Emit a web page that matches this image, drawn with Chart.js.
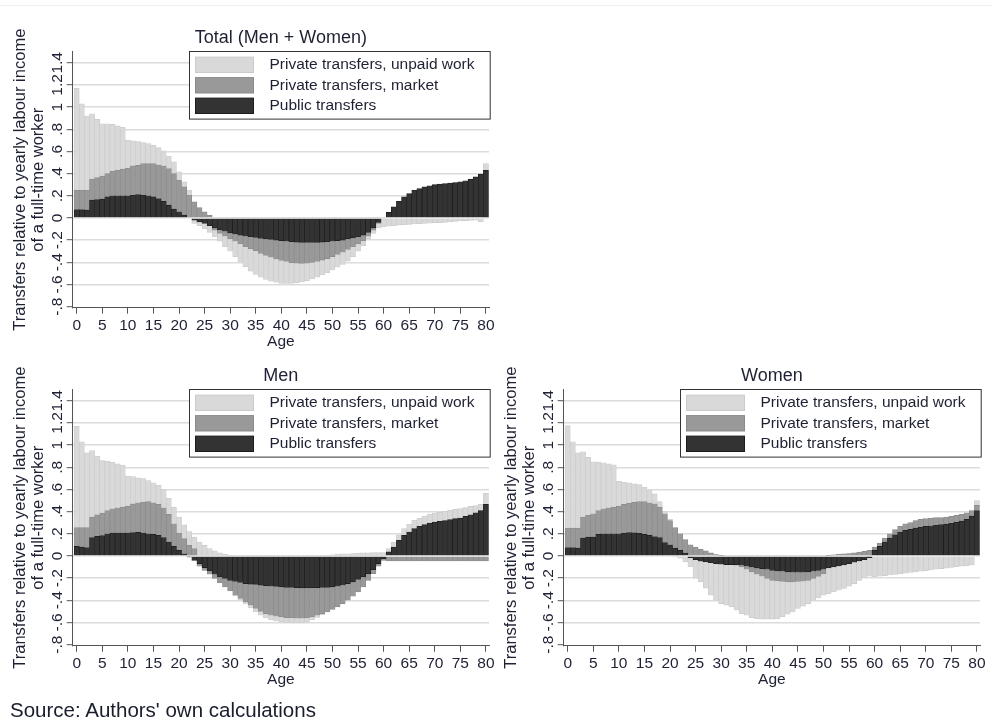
<!DOCTYPE html>
<html>
<head>
<meta charset="utf-8">
<script src="https://cdn.jsdelivr.net/npm/chart.js@4.4.1/dist/chart.umd.min.js"></script>
<style>
  body { margin: 0; background: #fff; width: 992px; height: 724px; position: relative; overflow: hidden;
         font-family: "Liberation Sans", Arial, sans-serif; }
  canvas { position: absolute; }
  #topline { position: absolute; left: 0; top: 5px; width: 992px; height: 1px; background: #f0f0f0; }
  #source { position: absolute; left: 10px; top: 699px; font-size: 20.5px; line-height: 22px; color: #1a1d2b; white-space: nowrap; }
</style>
</head>
<body>
<div id="topline"></div>
<canvas id="total" width="503" height="362" style="left:0;top:0"></canvas>
<canvas id="men" width="503" height="362" style="left:0;top:338px"></canvas>
<canvas id="women" width="503" height="362" style="left:491px;top:338px"></canvas>
<div id="source">Source: Authors' own calculations</div>
<script>
/* ====== data ====== */
const ages = [
  0, 1, 2, 3, 4, 5, 6, 7, 8, 9, 10, 11, 12, 13, 14, 15, 16, 17, 18, 19,
  20, 21, 22, 23, 24, 25, 26, 27, 28, 29, 30, 31, 32, 33, 34, 35, 36, 37, 38, 39,
  40, 41, 42, 43, 44, 45, 46, 47, 48, 49, 50, 51, 52, 53, 54, 55, 56, 57, 58, 59,
  60, 61, 62, 63, 64, 65, 66, 67, 68, 69, 70, 71, 72, 73, 74, 75, 76, 77, 78, 79, 80
];
const xTicks = [0, 5, 10, 15, 20, 25, 30, 35, 40, 45, 50, 55, 60, 65, 70, 75, 80];
const yTicks = [-0.8, -0.6, -0.4, -0.2, 0, 0.2, 0.4, 0.6, 0.8, 1, 1.2, 1.4];
const yTickLabels = ["-.8", "-.6", "-.4", "-.2", "0", ".2", ".4", ".6", ".8", "1", "1.2", "1.4"];
const yTitle = ["Transfers relative to yearly labour income", "of a full-time worker"];
const xTitle = "Age";
const seriesLabels = ["Public transfers", "Private transfers, market", "Private transfers, unpaid work"];

// Total (Men + Women)
const totalPublic = [
  0.075, 0.075, 0.07, 0.16, 0.165, 0.17, 0.19, 0.2, 0.2, 0.2,
  0.2, 0.205, 0.21, 0.205, 0.2, 0.19, 0.175, 0.15, 0.115, 0.08,
  0.055, 0.025, 0, -0.02, -0.035, -0.05, -0.07, -0.09, -0.105, -0.12,
  -0.135, -0.145, -0.155, -0.165, -0.17, -0.175, -0.185, -0.19, -0.195, -0.2,
  -0.205, -0.21, -0.215, -0.218, -0.22, -0.222, -0.222, -0.22, -0.218, -0.215,
  -0.21, -0.205, -0.2, -0.19, -0.18, -0.17, -0.155, -0.13, -0.09, -0.04,
  0, 0.05, 0.1, 0.15, 0.19, 0.22, 0.25, 0.265, 0.28, 0.29,
  0.3, 0.305, 0.31, 0.315, 0.32, 0.325, 0.335, 0.35, 0.37, 0.395,
  0.43
];
const totalMarket = [
  0.175, 0.175, 0.18, 0.19, 0.2, 0.207, 0.21, 0.22, 0.23, 0.24,
  0.25, 0.265, 0.265, 0.285, 0.29, 0.3, 0.305, 0.32, 0.33, 0.32,
  0.285, 0.255, 0.205, 0.145, 0.093, 0.054, 0.024, -0.02, -0.035, -0.045,
  -0.055, -0.065, -0.08, -0.095, -0.11, -0.12, -0.135, -0.148, -0.16, -0.17,
  -0.178, -0.183, -0.188, -0.19, -0.19, -0.186, -0.18, -0.172, -0.162, -0.152,
  -0.14, -0.125, -0.11, -0.095, -0.08, -0.065, -0.05, -0.035, -0.02, -0.01,
  0, 0, 0, 0, 0, 0, 0, 0, 0, 0,
  0, 0, 0, 0, 0, 0, 0, 0, 0, 0,
  0
];
const totalUnpaid = [
  0.92, 0.78, 0.67, 0.59, 0.525, 0.473, 0.45, 0.425, 0.4, 0.38,
  0.25, 0.225, 0.215, 0.19, 0.18, 0.165, 0.155, 0.135, 0.112, 0.106,
  0.076, 0.045, 0.045, -0.03, -0.035, -0.05, -0.06, -0.06, -0.07, -0.095,
  -0.11, -0.14, -0.165, -0.18, -0.2, -0.215, -0.215, -0.217, -0.215, -0.21,
  -0.207, -0.199, -0.187, -0.177, -0.168, -0.157, -0.148, -0.143, -0.135, -0.128,
  -0.12, -0.115, -0.11, -0.105, -0.09, -0.065, -0.045, -0.025, -0.03, -0.04,
  -0.08, -0.075, -0.07, -0.065, -0.06, -0.058, -0.055, -0.052, -0.05, -0.048,
  -0.045, -0.042, -0.04, -0.036, -0.032, -0.028, -0.025, -0.022, -0.02, -0.035,
  0.06
];

// Men
const menPublic = [
  0.087, 0.08, 0.075, 0.165, 0.177, 0.183, 0.2, 0.207, 0.207, 0.207,
  0.207, 0.21, 0.213, 0.207, 0.2, 0.195, 0.186, 0.165, 0.126, 0.087,
  0.05, 0.02, -0.01, -0.04, -0.07, -0.105, -0.135, -0.165, -0.19, -0.204,
  -0.22, -0.23, -0.24, -0.25, -0.254, -0.258, -0.263, -0.268, -0.273, -0.276,
  -0.28, -0.283, -0.285, -0.287, -0.288, -0.288, -0.287, -0.286, -0.285, -0.283,
  -0.28, -0.273, -0.264, -0.25, -0.234, -0.213, -0.19, -0.16, -0.123, -0.07,
  -0.024, 0.036, 0.08, 0.14, 0.186, 0.216, 0.246, 0.267, 0.282, 0.297,
  0.306, 0.312, 0.32, 0.327, 0.336, 0.342, 0.357, 0.372, 0.39, 0.41,
  0.465
];
const menMarket = [
  0.168, 0.175, 0.18, 0.185, 0.193, 0.204, 0.21, 0.219, 0.228, 0.233,
  0.243, 0.26, 0.267, 0.279, 0.29, 0.285, 0.279, 0.27, 0.249, 0.203,
  0.157, 0.136, 0.096, 0.066, -0.023, -0.025, -0.03, -0.039, -0.053, -0.076,
  -0.095, -0.124, -0.144, -0.164, -0.19, -0.216, -0.237, -0.252, -0.262, -0.268,
  -0.27, -0.273, -0.275, -0.275, -0.274, -0.272, -0.263, -0.249, -0.235, -0.222,
  -0.203, -0.187, -0.166, -0.15, -0.129, -0.111, -0.09, -0.06, -0.037, -0.023,
  -0.016, -0.045, -0.045, -0.045, -0.045, -0.045, -0.045, -0.045, -0.045, -0.045,
  -0.045, -0.045, -0.045, -0.045, -0.045, -0.045, -0.045, -0.045, -0.045, -0.045,
  -0.045
];
const menUnpaid = [
  0.915, 0.775, 0.675, 0.6, 0.53, 0.473, 0.445, 0.421, 0.395, 0.38,
  0.27, 0.245, 0.225, 0.211, 0.19, 0.18, 0.175, 0.165, 0.145, 0.15,
  0.143, 0.124, 0.124, 0.104, 0.126, 0.096, 0.066, 0.045, 0.027, 0.015,
  0.006, -0.005, -0.01, -0.02, -0.025, -0.03, -0.035, -0.038, -0.04, -0.042,
  -0.045, -0.045, -0.045, -0.043, -0.04, -0.035, -0.028, -0.02, -0.012, 0.005,
  0.01, 0.015, 0.018, 0.02, 0.022, 0.025, 0.027, 0.028, 0.03, 0.03,
  0.03, 0.03, 0.045, 0.05, 0.06, 0.07, 0.075, 0.075, 0.078, 0.08,
  0.08, 0.082, 0.083, 0.084, 0.085, 0.085, 0.08, 0.075, 0.065, 0.055,
  0.1
];

// Women
const womenPublic = [
  0.075, 0.075, 0.07, 0.162, 0.17, 0.17, 0.195, 0.2, 0.2, 0.2,
  0.2, 0.205, 0.21, 0.208, 0.205, 0.195, 0.186, 0.175, 0.165, 0.12,
  0.1, 0.07, 0.05, 0.025, -0.015, -0.033, -0.048, -0.054, -0.06, -0.069,
  -0.075, -0.078, -0.078, -0.078, -0.084, -0.093, -0.1, -0.108, -0.114, -0.12,
  -0.13, -0.135, -0.138, -0.144, -0.147, -0.147, -0.147, -0.144, -0.138, -0.13,
  -0.12, -0.108, -0.1, -0.09, -0.081, -0.069, -0.057, -0.045, -0.033, -0.015,
  0.05, 0.087, 0.126, 0.162, 0.19, 0.216, 0.23, 0.24, 0.252, 0.26,
  0.267, 0.272, 0.277, 0.282, 0.288, 0.295, 0.303, 0.315, 0.33, 0.36,
  0.41
];
const womenMarket = [
  0.177, 0.177, 0.182, 0.188, 0.196, 0.21, 0.215, 0.226, 0.235, 0.24,
  0.25, 0.26, 0.267, 0.275, 0.285, 0.295, 0.294, 0.295, 0.275, 0.26,
  0.22, 0.185, 0.15, 0.122, 0.1, 0.08, 0.06, 0.045, 0.027, 0.012,
  0.004, 0, 0, -0.005, -0.016, -0.027, -0.044, -0.057, -0.069, -0.084,
  -0.09, -0.09, -0.093, -0.09, -0.087, -0.084, -0.081, -0.076, -0.066, -0.055,
  -0.04, 0.005, 0.01, 0.015, 0.018, 0.022, 0.028, 0.035, 0.042, 0.05,
  0.03, 0.03, 0.036, 0.038, 0.047, 0.05, 0.06, 0.06, 0.068, 0.07,
  0.07, 0.07, 0.068, 0.064, 0.062, 0.062, 0.063, 0.06, 0.06, 0.05,
  0.046
];
const womenUnpaid = [
  0.925, 0.778, 0.678, 0.59, 0.524, 0.47, 0.437, 0.414, 0.395, 0.383,
  0.223, 0.202, 0.183, 0.167, 0.153, 0.13, 0.11, 0.09, 0.05, 0.02,
  0.01, -0.01, -0.02, -0.054, -0.085, -0.167, -0.186, -0.236, -0.294, -0.331,
  -0.355, -0.366, -0.382, -0.407, -0.42, -0.415, -0.412, -0.4, -0.387, -0.366,
  -0.35, -0.34, -0.319, -0.291, -0.271, -0.243, -0.225, -0.21, -0.196, -0.193,
  -0.194, -0.232, -0.224, -0.22, -0.213, -0.204, -0.193, -0.175, -0.162, -0.168,
  -0.19, -0.183, -0.178, -0.172, -0.167, -0.16, -0.155, -0.148, -0.144, -0.138,
  -0.132, -0.126, -0.12, -0.115, -0.11, -0.104, -0.098, -0.092, -0.087, -0.08,
  0.044
];

/* ====== style ====== */
const FONT = '"Liberation Sans", Arial, sans-serif';
const TEXT = "#1e2133";
const AXIS = "#555555";
const fills = ["#333333", "#999999", "#d9d9d9"];
const edges = ["#1c1c1c", "#8a8a8a", "#cbcbcb"];

// titles, rotated y labels and the boxed legend, Stata style
const decor = {
  id: "decor",
  afterDraw(chart, args, opts) {
    const { ctx, chartArea: a, scales } = chart;
    const cx = (a.left + a.right) / 2;
    ctx.save();
    ctx.fillStyle = TEXT;
    ctx.textAlign = "center";
    ctx.textBaseline = "middle";

    ctx.font = `18px ${FONT}`;
    ctx.fillText(opts.title, cx, a.top - 13.4);

    ctx.font = `15.5px ${FONT}`;
    ctx.fillText(xTitle, cx, a.bottom + 34);

    yTicks.forEach((v, i) => {
      ctx.save();
      ctx.translate(a.left - 15.2, scales.y.getPixelForValue(v));
      ctx.rotate(-Math.PI / 2);
      ctx.fillText(yTickLabels[i], 0, 0);
      ctx.restore();
    });

    ctx.font = `16.5px ${FONT}`;
    yTitle.forEach((line, i) => {
      ctx.save();
      ctx.translate(a.left - 51.8 + i * 17.8, (a.top + a.bottom) / 2);
      ctx.rotate(-Math.PI / 2);
      ctx.fillText(line, 0, 0);
      ctx.restore();
    });

    // legend box in the top right corner of the plot
    ctx.font = `15.5px ${FONT}`;
    const bw = 300.7, bh = 67.6;
    const bx = Math.round(a.right + 1 - bw) + 0.5;
    const by = Math.round(a.top - 0.5) + 0.5;
    ctx.fillStyle = "#ffffff";
    ctx.fillRect(bx, by, bw, bh);
    ctx.strokeStyle = "#333333";
    ctx.lineWidth = 1;
    ctx.strokeRect(bx, by, bw, bh);

    const order = [2, 1, 0];
    order.forEach((di, row) => {
      const ds = chart.data.datasets[di];
      const sy = by + 5.6 + row * 20.5;
      ctx.fillStyle = ds.backgroundColor;
      ctx.fillRect(bx + 6, sy, 58, 15.4);
      ctx.strokeStyle = ds.borderColor;
      ctx.strokeRect(bx + 6, sy, 58, 15.4);
      ctx.fillStyle = TEXT;
      ctx.textAlign = "left";
      ctx.fillText(ds.label, bx + 80, sy + 7.9);
    });
    ctx.restore();
  },
};

function makePanel(id, title, pub, market, unpaid) {
  const series = [pub, market, unpaid];
  return new Chart(document.getElementById(id), {
    type: "bar",
    data: {
      labels: ages,
      datasets: series.map((d, i) => ({
        label: seriesLabels[i],
        data: d,
        backgroundColor: fills[i],
        borderColor: edges[i],
        borderWidth: 0.7,
        barPercentage: 1,
        categoryPercentage: 1,
      })),
    },
    options: {
      responsive: false,
      animation: false,
      devicePixelRatio: 1,
      layout: { padding: { left: 66.7, right: 14, top: 51.7, bottom: 23.7 } },
      plugins: {
        legend: { display: false },
        tooltip: { enabled: false },
        decor: { title },
      },
      scales: {
        x: {
          type: "linear",
          stacked: true,
          offset: false,
          min: -0.78,
          max: 80.6,
          afterBuildTicks: (axis) => { axis.ticks = xTicks.map((v) => ({ value: v })); },
          grid: { offset: false, drawOnChartArea: false, drawTicks: true, tickLength: 6, tickColor: AXIS, color: AXIS },
          border: { display: true, color: AXIS, width: 1 },
          ticks: {
            color: TEXT,
            padding: 4.55,
            maxRotation: 0,
            autoSkip: false,
            font: { family: FONT, size: 15.5, lineHeight: 1 },
            callback: (v) => String(v),
          },
        },
        y: {
          stacked: true,
          min: -0.81,
          max: 1.5,
          afterBuildTicks: (axis) => { axis.ticks = yTicks.map((v) => ({ value: v })); },
          grid: {
            color: (c) => (c.tick && c.tick.value === -0.8 ? "rgba(0,0,0,0)" : "#dcdcdc"),
            lineWidth: 1.4,
            drawTicks: true,
            tickLength: 6,
            tickColor: AXIS,
            tickWidth: 1,
          },
          border: { display: true, color: AXIS, width: 1 },
          ticks: { display: false },
        },
      },
    },
    plugins: [decor],
  });
}

makePanel("total", "Total (Men + Women)", totalPublic, totalMarket, totalUnpaid);
makePanel("men", "Men", menPublic, menMarket, menUnpaid);
makePanel("women", "Women", womenPublic, womenMarket, womenUnpaid);
</script>
</body>
</html>
